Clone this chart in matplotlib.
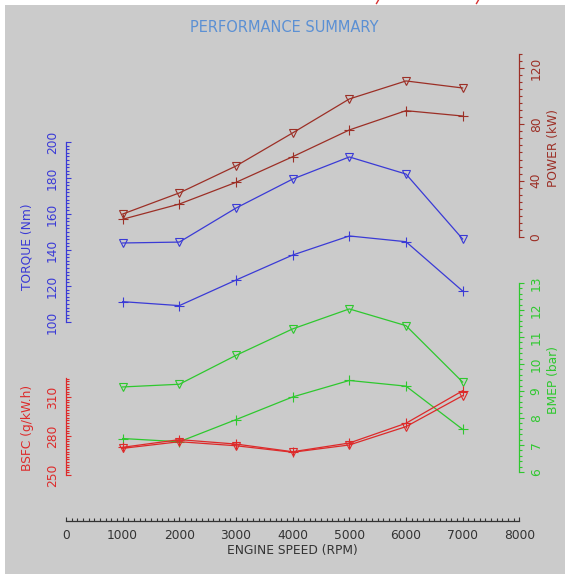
import matplotlib
matplotlib.use("Agg")
import matplotlib.pyplot as plt
from matplotlib.ticker import MultipleLocator, FixedLocator
from matplotlib.patches import Rectangle
from matplotlib.lines import Line2D

plt.rcParams["font.family"] = ["DejaVu Sans"]

# Engine speed points (rpm)
rpm = [1000, 2000, 3000, 4000, 5000, 6000, 7000]

# Engine A (open triangles) and engine B (plus markers)
torque_a = [143.9, 144.4, 163.3, 179.4, 191.7, 182.2, 146.1]   # Nm
torque_b = [111.3, 109.1, 123.3, 137.2, 147.8, 144.6, 117.2]
power_a = [16.3, 31.3, 50.4, 73.9, 98.0, 110.8, 105.8]          # kW
power_b = [12.6, 23.4, 38.8, 57.0, 76.0, 89.7, 85.9]
bmep_a = [9.15, 9.25, 10.32, 11.30, 12.04, 11.42, 9.33]         # bar
bmep_b = [7.24, 7.12, 7.94, 8.78, 9.39, 9.18, 7.58]
bsfc_a = [270.5, 275.6, 272.5, 267.5, 273.1, 287.2, 311.0]      # g/kW.h
bsfc_b = [271.3, 277.2, 273.8, 267.9, 274.6, 289.8, 314.8]

x_ticks = [0, 1000, 2000, 3000, 4000, 5000, 6000, 7000, 8000]
torque_ticks = [100, 120, 140, 160, 180, 200]
power_ticks = [0, 40, 80, 120]
bmep_ticks = [6, 7, 8, 9, 10, 11, 12, 13]
bsfc_ticks = [250, 280, 310]

BG = "#cbcbcb"
C_TORQUE = "#3a3ad6"
C_POWER = "#9c2f26"
C_BMEP = "#2ec82e"
C_BSFC = "#dd2a2a"
C_TEXT = "#333333"
C_TITLE = "#5b90d4"

W, H = 565, 574
fig = plt.figure(figsize=(W / 100, H / 100), dpi=100, facecolor="white")
fig.patches.append(Rectangle((5 / W, 0), 1 - 5 / W, 1 - 5 / H,
                             transform=fig.transFigure, facecolor=BG,
                             edgecolor="none", zorder=-10))

X0, X1 = 66, 519.3
FS = 8.8


def band(ytop, ybot):
    """Transparent axes spanning the rpm range, placed by pixel rows."""
    ax = fig.add_axes([X0 / W, (H - ybot) / H, (X1 - X0) / W, (ybot - ytop) / H])
    ax.set_xlim(0, 8000)
    ax.patch.set_visible(False)
    for s in ax.spines.values():
        s.set_visible(False)
    ax.set_xticks([])
    return ax


def style_y(ax, side, color, lo, hi, major, minor, direction, pad):
    ax.set_ylim(lo, hi)
    ax.spines[side].set_visible(True)
    ax.spines[side].set_color(color)
    ax.spines[side].set_linewidth(0.9)
    if side == "right":
        ax.yaxis.tick_right()
    ax.yaxis.set_major_locator(FixedLocator(major))
    ax.yaxis.set_minor_locator(MultipleLocator(minor))
    ax.tick_params(axis="y", which="both", direction=direction, colors=color,
                   labelsize=FS, labelrotation=90, pad=pad, width=0.8)
    ax.tick_params(axis="y", which="major", length=3.5)
    ax.tick_params(axis="y", which="minor", length=2.0)
    for t in ax.get_yticklabels():
        t.set_va("center")


def plot_pair(ax, ya, yb, color):
    ax.plot(rpm, ya, color=color, lw=0.9, marker="v", ms=5.5,
            mfc="none", mec=color, mew=0.8, clip_on=False)
    ax.plot(rpm, yb, color=color, lw=0.9, marker="+", ms=7,
            mec=color, mew=0.8, clip_on=False)


# Engine speed axis
ax_x = band(511, 521)
ax_x.spines["bottom"].set_visible(True)
ax_x.spines["bottom"].set_color(C_TEXT)
ax_x.spines["bottom"].set_linewidth(0.9)
ax_x.set_yticks([])
ax_x.xaxis.set_major_locator(FixedLocator(x_ticks))
ax_x.xaxis.set_minor_locator(MultipleLocator(100))
ax_x.tick_params(axis="x", which="both", direction="in", colors=C_TEXT,
                 labelsize=FS, pad=6, width=0.8)
ax_x.tick_params(axis="x", which="major", length=3.0)
ax_x.tick_params(axis="x", which="minor", length=2.0)
ax_x.set_xlabel("ENGINE SPEED (RPM)", fontsize=FS, color=C_TEXT, labelpad=1)

# Torque
ax_t = band(142, 322)
style_y(ax_t, "left", C_TORQUE, 100, 200, torque_ticks, 2, "in", 5)
plot_pair(ax_t, torque_a, torque_b, C_TORQUE)

# Power
ax_p = band(53.9, 237)
style_y(ax_p, "right", C_POWER, 0, 130, power_ticks, 5, "out", 4)
plot_pair(ax_p, power_a, power_b, C_POWER)

# BMEP
ax_b = band(283, 472)
style_y(ax_b, "right", C_BMEP, 6, 13, bmep_ticks, 0.2, "out", 4)
plot_pair(ax_b, bmep_a, bmep_b, C_BMEP)

# BSFC
ax_s = band(377.5, 475)
style_y(ax_s, "left", C_BSFC, 250, 325, bsfc_ticks, 2, "in", 5)
plot_pair(ax_s, bsfc_a, bsfc_b, C_BSFC)


# Axis titles
def ftext(xp, yp, s, color, rot=90, size=FS):
    fig.text(xp / W, 1 - yp / H, s, color=color, fontsize=size, rotation=rot,
             ha="center", va="center")


ftext(27, 247, "TORQUE (Nm)", C_TORQUE)
ftext(27, 428, "BSFC (g/kW.h)", C_BSFC)
ftext(553, 148, "POWER (kW)", C_POWER)
ftext(553, 380, "BMEP (bar)", C_BMEP)
ftext(284, 28, "PERFORMANCE SUMMARY", C_TITLE, rot=0, size=10.5)

# Pen strokes along the top edge
for xp in (378, 478):
    fig.add_artist(Line2D([(xp - 1.5) / W, (xp + 0.5) / W], [1 - 3.5 / H, 1.0],
                          transform=fig.transFigure, color="#d83030", lw=1.0))

fig.savefig("out.png", dpi=100, facecolor=fig.get_facecolor())
